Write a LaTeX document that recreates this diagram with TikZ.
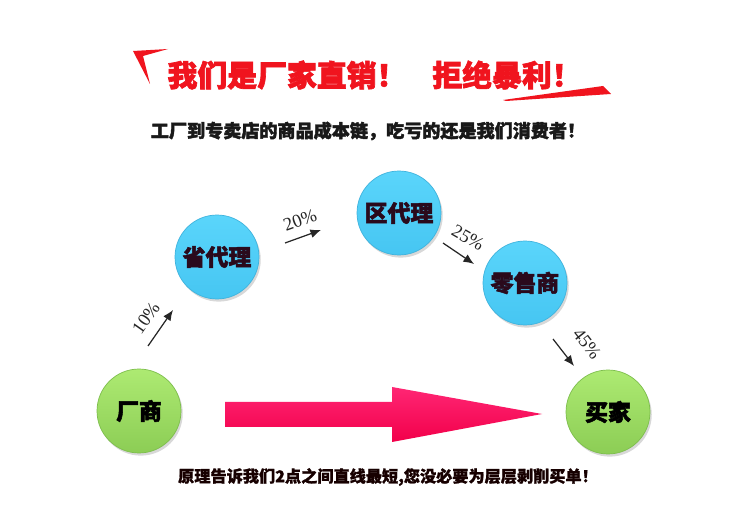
\documentclass[tikz,border=0pt]{standalone}
\usepackage{fontspec}
\setmainfont{Liberation Serif}
\newfontfamily\cjk{Noto Sans CJK SC}[BoldFeatures={FakeBold=1.2}]
\newfontfamily\cjkheavy{Noto Sans CJK SC}[BoldFeatures={FakeBold=2.2}]
\usetikzlibrary{shadows,arrows.meta}
\definecolor{titlered}{HTML}{F0141E}
\definecolor{bluetop}{HTML}{5AD5FB}
\definecolor{bluebot}{HTML}{46C6F2}
\definecolor{blueedge}{HTML}{3FB3DD}
\definecolor{greentop}{HTML}{ADEA72}
\definecolor{greenbot}{HTML}{8CCD55}
\definecolor{greenedge}{HTML}{7DBE4C}
\definecolor{labelink}{HTML}{2A0A1C}
\definecolor{pinktop}{HTML}{FF2674}
\definecolor{pinkbot}{HTML}{F2004A}
\tikzset{
  ball/.style={circle, minimum size=1.68cm, inner sep=0pt,
    font=\cjkheavy\bfseries\fontsize{13}{15}\selectfont,
    drop shadow={opacity=0.3, shadow xshift=1pt, shadow yshift=-1.5pt}},
  blueball/.style={ball, top color=bluetop, bottom color=bluebot, draw=blueedge, line width=0.4pt, text=labelink},
  greenball/.style={ball, top color=greentop, bottom color=greenbot, draw=greenedge, line width=0.4pt, text=black},
  pct/.style={font=\fontsize{10.5}{12}\selectfont, text=black!85, inner sep=0pt},
  smallarrow/.style={draw=black!85, line width=0.7pt, -{Latex[length=6pt,width=5pt]}},
  redmark/.style={fill=titlered},
}
\begin{document}
\begin{tikzpicture}[x=0.02cm,y=-0.02cm]
\useasboundingbox[fill=white] (0,0) rectangle (750,516);

% decorative red strokes
\fill[redmark] (133,51) -- (168,49) -- (143,56) -- (150,84) -- cycle;
\fill[redmark] (503,100) -- (603,86) -- (611,94) -- (506,101) -- cycle;

% titles
\node[text=titlered, font=\cjkheavy\bfseries\fontsize{17}{20}\selectfont, inner sep=0pt] (t1) at (287,75) {我们是厂家直销！};
\node[text=titlered, font=\cjkheavy\bfseries\fontsize{17}{20}\selectfont, inner sep=0pt] (t2) at (507,75) {拒绝暴利！};
\node[text=black!90, font=\cjkheavy\bfseries\fontsize{10.3}{12}\selectfont, inner sep=0pt] (sub) at (368,131) {工厂到专卖店的商品成本链，吃亏的还是我们消费者！};

% circles
\node[greenball] (cs) at (139,411) {厂商};
\node[blueball] (sdl) at (217,257) {省代理};
\node[blueball] (qdl) at (399,213) {区代理};
\node[blueball] (lss) at (525,283) {零售商};
\node[greenball] (mj) at (608,412) {买家};

% small arrows
\coordinate (a1s) at (148,346); \coordinate (a1e) at (173,310);
\coordinate (a2s) at (285,243); \coordinate (a2e) at (321,230);
\coordinate (a3s) at (443,243); \coordinate (a3e) at (474,264);
\coordinate (a4s) at (553,339); \coordinate (a4e) at (574,366);
\draw[smallarrow] (a1s) -- (a1e);
\draw[smallarrow] (a2s) -- (a2e);
\draw[smallarrow] (a3s) -- (a3e);
\draw[smallarrow] (a4s) -- (a4e);
\node[pct, rotate=55] (p1) at (146,318) {10\%};
\node[pct, rotate=20] (p2) at (300,220) {20\%};
\node[pct, rotate=-30] (p3) at (468,238) {25\%};
\node[pct, rotate=-52] (p4) at (587,344) {45\%};

% big arrow
\shade[top color=pinktop, bottom color=pinkbot]
  (225,402) -- (392,402) -- (392,387) -- (542,414) -- (392,442) -- (392,427) -- (225,427) -- cycle;

% bottom text
\node[text=black!85!red!60!black, font=\cjk\bfseries\fontsize{9.2}{11}\selectfont, inner sep=0pt] (bot) at (388,477) {原理告诉我们2点之间直线最短,您没必要为层层剥削买单！};
\end{tikzpicture}
\end{document}
